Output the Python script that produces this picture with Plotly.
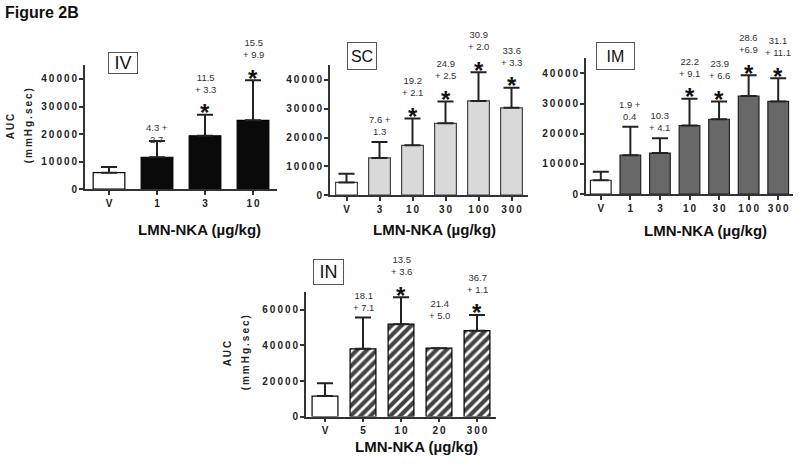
import plotly.graph_objects as go

# values (AUC, mmHg.sec)
iv_doses = ["V", "1", "3", "10"]
iv_auc = [6000, 11600, 19400, 25000]
iv_sd = [2100, 5900, 7600, 14500]
iv_labels = ["", "4.3 +<br>2.7", "11.5<br>+ 3.3", "15.5<br>+ 9.9"]
iv_star = [False, False, True, True]

sc_doses = ["V", "3", "10", "30", "100", "300"]
sc_auc = [4400, 12900, 17300, 24900, 32700, 30300]
sc_sd = [3000, 5500, 9300, 7600, 9900, 7000]
sc_labels = ["", "7.6 +<br>1.3", "19.2<br>+ 2.1", "24.9<br>+ 2.5", "30.9<br>+ 2.0", "33.6<br>+ 3.3"]
sc_star = [False, False, True, True, True, True]

im_doses = ["V", "1", "3", "10", "30", "100", "300"]
im_auc = [4600, 12900, 13600, 22700, 24800, 32500, 30700]
im_sd = [2800, 9400, 4900, 8900, 5900, 6900, 7700]
im_labels = ["", "1.9 +<br>0.4", "10.3<br>+ 4.1", "22.2<br>+ 9.1", "23.9<br>+ 6.6", "28.6<br>+6.9", "31.1<br>+ 11.1"]
im_star = [False, False, False, True, True, True, True]

in_doses = ["V", "5", "10", "20", "300"]
in_auc = [11500, 38100, 52000, 38500, 48300]
in_sd = [7200, 17600, 15200, None, 8900]
in_labels = ["", "18.1<br>+ 7.1", "13.5<br>+ 3.6", "21.4<br>+ 5.0", "36.7<br>+ 1.1"]
in_star = [False, False, True, False, True]

FONT = "Liberation Sans, Arial, sans-serif"
W, H = 800, 464


def px(x):
    return x / W


def py(y):
    return 1 - y / H


def spaced(s):
    return "\u2009".join(s)


# layout of each panel in page pixels
panels = [
    dict(name="IV", doses=iv_doses, auc=iv_auc, sd=iv_sd, labels=iv_labels, star=iv_star,
         fill="#0a0a0a", edge="#000000", pattern="", bw=0.66,
         xpx=(85, 277), ypx=(191.7, 66), ymax=45000, ystep=10000,
         box=(122.5, 64, 30, 22, 18), title=(199, 233), ytitle=(10, 28, 128)),
    dict(name="SC", doses=sc_doses, auc=sc_auc, sd=sc_sd, labels=sc_labels, star=sc_star,
         fill="#d9d9d9", edge="#444444", pattern="", bw=0.66,
         xpx=(330, 528), ypx=(197.7, 66.3), ymax=45000, ystep=10000,
         box=(362, 57, 30, 28, 16), title=(435, 233), ytitle=None),
    dict(name="IM", doses=im_doses, auc=im_auc, sd=im_sd, labels=im_labels, star=im_star,
         fill="#686868", edge="#222222", pattern="", bw=0.7,
         xpx=(586, 793), ypx=(196.7, 59), ymax=45000, ystep=10000,
         box=(615.5, 57, 39, 28, 16), title=(705, 234), ytitle=None),
    dict(name="IN", doses=in_doses, auc=in_auc, sd=in_sd, labels=in_labels, star=in_star,
         fill="#ffffff", edge="#000000", pattern="/", bw=0.68,
         xpx=(306, 496), ypx=(422, 296), ymax=70000, ystep=20000,
         box=(328.5, 276, 31, 26, 18), title=(416, 452), ytitle=(227, 245, 358)),
]

# a couple of labels sit off the usual spot
label_lift = {("IV", "1"): -9, ("IN", "20"): 22}

fig = go.Figure()
annotations = []

for i, p in enumerate(panels, start=1):
    xa = "x" if i == 1 else "x%d" % i
    ya = "y" if i == 1 else "y%d" % i
    n = len(p["doses"])
    colors = ["#ffffff"] + [p["fill"]] * (n - 1)
    shapes = [""] + [p["pattern"]] * (n - 1)
    fig.add_trace(go.Bar(
        x=p["doses"], y=p["auc"], xaxis=xa, yaxis=ya, width=p["bw"],
        marker=dict(color=colors, line=dict(color=p["edge"], width=1.2),
                    pattern=dict(shape=shapes, fgcolor="#000000", fgopacity=1,
                                 bgcolor="#ffffff", size=7, solidity=0.6)),
        error_y=dict(type="data", symmetric=False, array=p["sd"], arrayminus=[0] * n,
                     width=8, thickness=2, color="#222222"),
        showlegend=False,
    ))

    ticks = list(range(0, p["ymax"], p["ystep"]))
    fig.update_layout({
        ("xaxis" if i == 1 else "xaxis%d" % i): dict(
            domain=[px(p["xpx"][0]), px(p["xpx"][1])], anchor=ya, type="category",
            range=[-0.5, n - 0.5], tickvals=p["doses"], ticktext=[spaced(d) for d in p["doses"]],
            showline=True, linecolor="#333333", linewidth=1.8, ticks="outside", ticklen=4,
            tickwidth=1.5, tickcolor="#333333", showgrid=False,
            tickfont=dict(family=FONT, size=10, color="#222222", weight="bold")),
        ("yaxis" if i == 1 else "yaxis%d" % i): dict(
            domain=[py(p["ypx"][0]), py(p["ypx"][1])], anchor=xa, range=[0, p["ymax"]],
            tickvals=ticks, ticktext=[spaced(str(t)) for t in ticks],
            showline=True, linecolor="#333333", linewidth=1.8, ticks="outside", ticklen=4,
            tickwidth=1.5, tickcolor="#333333", showgrid=False, zeroline=False,
            tickfont=dict(family=FONT, size=10, color="#222222", weight="bold")),
    })

    # dose labels and stars above each bar (x given as category index)
    for j, (d, m, s, lab, st) in enumerate(zip(p["doses"], p["auc"], p["sd"], p["labels"], p["star"])):
        top = m + (s or 0)
        if st:
            annotations.append(dict(x=j, y=top, xref=xa, yref=ya, text="*", showarrow=False,
                                    yanchor="middle", yshift=2,
                                    font=dict(family=FONT, size=24, color="#111111", weight="bold")))
        if lab:
            lift = (18 if st else 3) + label_lift.get((p["name"], d), 0)
            annotations.append(dict(x=j, y=top, xref=xa, yref=ya, text=lab, showarrow=False,
                                    yanchor="bottom", yshift=lift,
                                    font=dict(family=FONT, size=9.5, color="#333333")))

    # boxed route label
    bx, by, bw, bh, fs = p["box"]
    annotations.append(dict(x=px(bx), y=py(by), xref="paper", yref="paper", text=p["name"],
                            showarrow=False, xanchor="center", yanchor="middle",
                            width=bw - 2, height=bh - 2, borderpad=0, borderwidth=1,
                            bordercolor="#555555", bgcolor="#ffffff",
                            font=dict(family=FONT, size=fs, color="#111111")))

    # x-axis title
    tx, ty = p["title"]
    annotations.append(dict(x=px(tx), y=py(ty), xref="paper", yref="paper",
                            text="LMN-NKA (µg/kg)", showarrow=False,
                            xanchor="center", yanchor="middle",
                            font=dict(family=FONT, size=15, color="#111111", weight="bold")))

    # y-axis title
    if p["ytitle"]:
        ax1, ax2, ay = p["ytitle"]
        annotations.append(dict(x=px(ax1), y=py(ay), xref="paper", yref="paper",
                                text=spaced("AUC"), textangle=-90, showarrow=False,
                                xanchor="center", yanchor="middle",
                                font=dict(family=FONT, size=10, color="#222222", weight="bold")))
        annotations.append(dict(x=px(ax2), y=py(ay), xref="paper", yref="paper",
                                text=spaced("(mmHg.sec)"), textangle=-90, showarrow=False,
                                xanchor="center", yanchor="middle",
                                font=dict(family=FONT, size=10, color="#222222", weight="bold")))

annotations.append(dict(x=px(3), y=py(13), xref="paper", yref="paper", text="Figure 2B",
                        showarrow=False, xanchor="left", yanchor="middle",
                        font=dict(family=FONT, size=16, color="#111111", weight="bold")))

fig.update_layout(
    width=W, height=H,
    margin=dict(l=0, r=0, t=0, b=0),
    paper_bgcolor="#ffffff", plot_bgcolor="#ffffff",
    annotations=annotations,
)

# the page's default body margin would push the figure 8px right and down
fig.write_html("out.html", config={"displayModeBar": False},
               post_script="document.body.style.margin = '0';")
